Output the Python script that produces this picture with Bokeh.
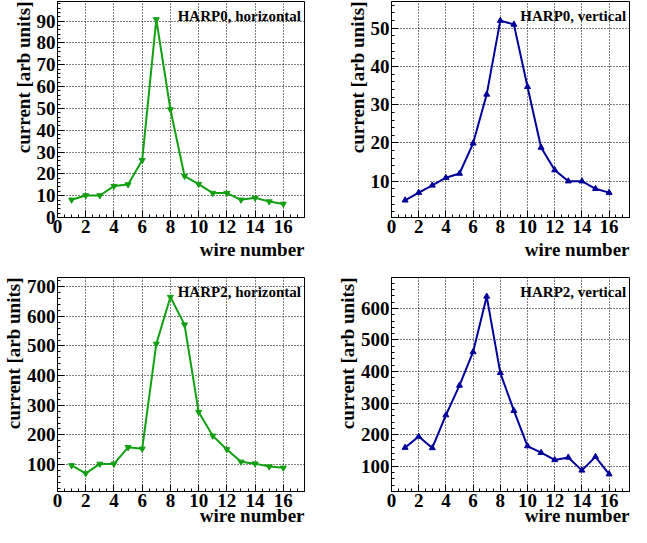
from bokeh.plotting import figure
from bokeh.layouts import gridplot
from bokeh.models import FixedTicker, Title, Label, Range1d
from bokeh.embed import file_html
from bokeh.resources import INLINE

wire = list(range(1, 17))
harp0_h = [8.1, 10.1, 10.1, 14.4, 15.1, 26.2, 90.8, 49.5, 19.0, 15.3, 11.2, 11.2, 8.1, 9.0, 7.3, 6.2]
harp0_v = [5.0, 7.0, 8.9, 10.9, 12.0, 19.9, 32.7, 52.0, 51.0, 34.7, 18.8, 12.9, 10.0, 10.0, 8.0, 7.0]
harp2_h = [97, 70, 102, 102, 158, 153, 507, 665, 572, 277, 197, 151, 109, 103, 93, 89]
harp2_v = [159, 194, 158, 262, 356, 462, 638, 396, 276, 164, 143, 120, 128, 87, 130, 75]

x_major = list(range(0, 17, 2))
x_minor = [i * 0.5 for i in range(0, 36)]

FONT = "Liberation Serif"
GREEN = "#11a011"
BLUE = "#000099"


def xtitle(stand):
    kw = dict(text="wire number", align="right", text_font=FONT,
              text_font_style="bold", text_font_size="19px",
              text_color="black", offset=0)
    try:
        return Title(standoff=stand, **kw)
    except Exception:
        return Title(standoff=0, **kw)


def make(title, ys, color, marker, yr, ymaj, ymin, w, h, bl, br, bt, bb, stand):
    p = figure(width=w, height=h, output_backend="svg", toolbar_location=None,
               x_range=Range1d(0, 17.5), y_range=Range1d(*yr),
               min_border_left=bl, min_border_right=br, min_border_top=bt,
               min_border_bottom=bb)
    p.outline_line_color = "black"
    p.outline_line_width = 1
    p.background_fill_color = "white"
    p.border_fill_color = "white"
    p.xaxis.ticker = FixedTicker(ticks=x_major, minor_ticks=x_minor)
    p.yaxis.ticker = FixedTicker(ticks=ymaj, minor_ticks=ymin)
    for ax in (p.xaxis, p.yaxis):
        ax.major_tick_in = 7
        ax.major_tick_out = 0
        ax.minor_tick_in = 3
        ax.minor_tick_out = 0
        ax.axis_line_color = "black"
        ax.major_tick_line_color = "black"
        ax.minor_tick_line_color = "black"
        ax.major_label_text_font = FONT
        ax.major_label_text_font_style = "bold"
        ax.major_label_text_font_size = "19px"
        ax.major_label_text_color = "black"
    p.xaxis.major_label_standoff = 2
    p.yaxis.major_label_standoff = 2
    p.grid.grid_line_color = "black"
    p.grid.grid_line_dash = "1 2"
    p.grid.grid_line_width = 1
    p.grid.grid_line_alpha = 1.0
    p.line(wire, ys, line_color=color, line_width=2)
    p.scatter(wire, ys, marker=marker, size=6, fill_color=color, line_color=color)
    p.add_layout(xtitle(stand), "below")
    p.add_layout(Title(text="current [arb units]", align="right", text_font=FONT,
                       text_font_style="bold", text_font_size="19px",
                       text_color="black", standoff=0, offset=0), "left")
    p.add_layout(Label(x=17.25, y=yr[1] - 0.03 * (yr[1] - yr[0]), text=title,
                       text_align="right", text_baseline="top", text_font=FONT,
                       text_font_style="bold", text_font_size="15px", text_color="black"))
    return p


p1 = make("HARP0, horizontal", harp0_h, GREEN, "inverted_triangle", (0, 99),
          list(range(0, 91, 10)), list(range(0, 100, 2)), 316, 260, 55, 12, 1, 42, 2)
p2 = make("HARP0, vertical", harp0_v, BLUE, "triangle", (0.5, 57),
          list(range(10, 51, 10)), list(range(2, 58, 2)), 315, 260, 75, 2, 1, 42, 2)
p3 = make("HARP2, horizontal", harp2_h, GREEN, "inverted_triangle", (9, 731),
          list(range(100, 701, 100)), list(range(20, 731, 20)), 316, 267, 55, 12, 17, 36, -14)
p4 = make("HARP2, vertical", harp2_v, BLUE, "triangle", (20, 698),
          list(range(100, 601, 100)), list(range(20, 698, 20)), 315, 267, 75, 2, 17, 36, -14)

grid = gridplot([[p1, p2], [p3, p4]], toolbar_location=None)
open("out.html", "w").write(file_html(grid, INLINE))
